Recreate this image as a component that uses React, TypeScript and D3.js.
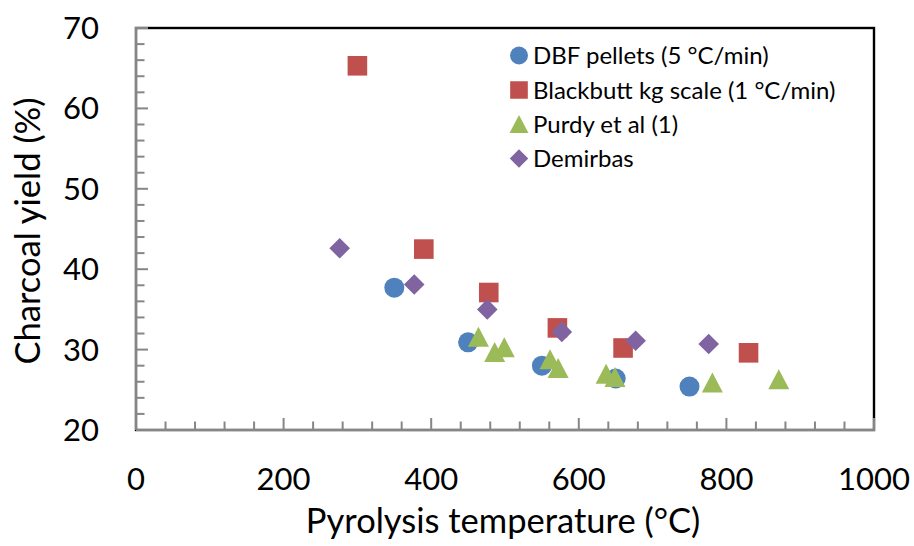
import React from "react";
import * as d3 from "d3";

const seriesNames = [
  "DBF pellets (5 °C/min)",
  "Blackbutt kg scale (1 °C/min)",
  "Purdy et al (1)",
  "Demirbas",
];
const seriesColors = ["#4F81BD", "#C0504D", "#9BBB59", "#8064A2"];
const seriesShapes = ["circle", "square", "triangle", "diamond"];

const dbfTemp = [350, 450, 550, 650, 750];
const dbfYield = [37.7, 30.9, 28.0, 26.4, 25.4];
const blackbuttTemp = [300, 390, 478, 571, 660, 830];
const blackbuttYield = [65.3, 42.5, 37.1, 32.7, 30.2, 29.6];
const purdyTemp = [464, 486, 499, 561, 572, 637, 649, 781, 871];
const purdyYield = [31.6, 29.7, 30.3, 28.8, 27.7, 27.0, 26.6, 25.9, 26.3];
const demirbasTemp = [276, 377, 476, 577, 677, 776];
const demirbasYield = [42.6, 38.1, 35.0, 32.2, 31.1, 30.7];

const xTicks = [0, 200, 400, 600, 800, 1000];
const yTicks = [20, 30, 40, 50, 60, 70];

const W = 914;
const H = 546;
const left = 136;
const right = 874;
const top = 28;
const bottom = 430;
const FONT = "Lato, 'Open Sans', sans-serif";

function markerPath(shape: string, cx: number, cy: number): string {
  const p = d3.path();
  if (shape === "circle") {
    const r = 10;
    p.moveTo(cx + r, cy);
    p.arc(cx, cy, r, 0, Math.PI * 2);
  } else if (shape === "square") {
    const h = 9.8;
    p.rect(cx - h, cy - h, 2 * h, 2 * h);
  } else if (shape === "triangle") {
    const hw = 10.5;
    const hh = 10;
    p.moveTo(cx, cy - hh);
    p.lineTo(cx + hw, cy + hh);
    p.lineTo(cx - hw, cy + hh);
    p.closePath();
  } else {
    const r = 10.3;
    p.moveTo(cx, cy - r);
    p.lineTo(cx + r, cy);
    p.lineTo(cx, cy + r);
    p.lineTo(cx - r, cy);
    p.closePath();
  }
  return p.toString();
}

export default function App() {
  const x = d3.scaleLinear().domain([0, 1000]).range([left, right]);
  const y = d3.scaleLinear().domain([20, 70]).range([bottom, top]);

  const series = [
    { t: dbfTemp, v: dbfYield },
    { t: blackbuttTemp, v: blackbuttYield },
    { t: purdyTemp, v: purdyYield },
    { t: demirbasTemp, v: demirbasYield },
  ];

  const xMinor = d3.range(0, 1000.1, 40);
  const yMinor = d3.range(20, 70.1, 2);
  const axisColor = "#868686";

  const legendX = 519;
  const legendRows = [55.5, 90, 124, 158.5];

  return (
    <div style={{ position: "absolute", left: 0, top: 0 }}>
      <svg width={W} height={H} style={{ display: "block", background: "#fff" }}>
        <rect x={0} y={0} width={W} height={H} fill="#fff" />
        <rect
          x={left}
          y={top}
          width={right - left}
          height={bottom - top}
          fill="none"
          stroke="#000"
          strokeWidth={2.4}
        />
        {series.map((s, si) => (
          <g key={si} fill={seriesColors[si]}>
            {s.t.map((t, i) => (
              <path key={i} d={markerPath(seriesShapes[si], x(t), y(s.v[i]))} />
            ))}
          </g>
        ))}
        <g stroke={axisColor} strokeWidth={2}>
          <line x1={left} x2={right + 1} y1={bottom} y2={bottom} />
          <line x1={left} x2={left} y1={top - 1} y2={bottom} />
          {xMinor.map((v) => (
            <line key={"xm" + v} x1={x(v)} x2={x(v)} y1={bottom} y2={bottom - (v % 200 === 0 ? 12 : 8.5)} />
          ))}
          {yMinor.map((v) => (
            <line key={"ym" + v} x1={left} x2={left + (v % 10 === 0 ? 12 : 8.5)} y1={y(v)} y2={y(v)} />
          ))}
        </g>
        <g fontFamily={FONT} fontSize={31} fill="#000">
          {xTicks.map((v) => (
            <text key={"xl" + v} x={x(v)} y={490} textAnchor="middle">
              {v}
            </text>
          ))}
          {yTicks.map((v) => (
            <text key={"yl" + v} x={99} y={y(v) + 11} textAnchor="end">
              {v}
            </text>
          ))}
        </g>
        <text
          x={(left + right) / 2 - 2}
          y={533}
          textAnchor="middle"
          fontFamily={FONT}
          fontSize={34.5}
          fill="#000"
        >
          Pyrolysis temperature (°C)
        </text>
        <text
          transform={`translate(40, ${(top + bottom) / 2 + 2}) rotate(-90)`}
          textAnchor="middle"
          fontFamily={FONT}
          fontSize={34.5}
          fill="#000"
        >
          Charcoal yield (%)
        </text>
        {seriesNames.map((n, i) => (
          <g key={"lg" + i}>
            <path
              d={markerPath(seriesShapes[i], legendX, legendRows[i])}
              fill={seriesColors[i]}
              transform={`translate(${legendX * 0.1}, ${legendRows[i] * 0.1}) scale(0.9)`}
            />
            <text x={533} y={legendRows[i] + 8.5} fontFamily={FONT} fontSize={24} fill="#000">
              {n}
            </text>
          </g>
        ))}
      </svg>
    </div>
  );
}
